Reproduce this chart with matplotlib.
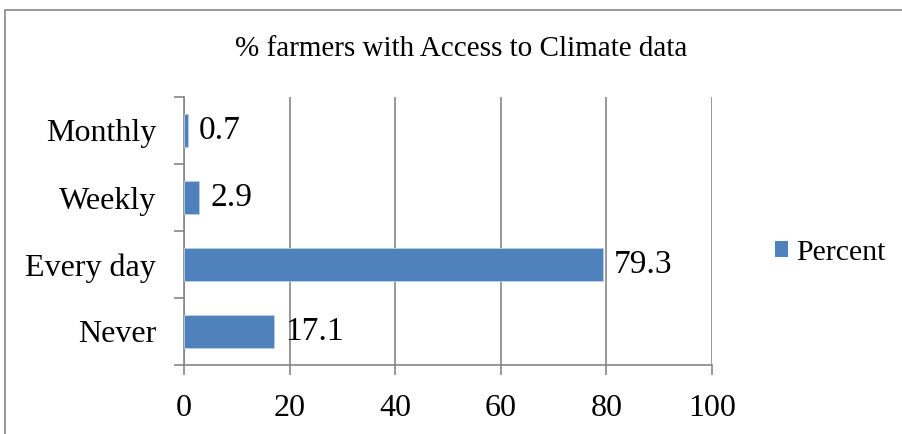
import matplotlib.pyplot as plt
from matplotlib.patches import Rectangle, Patch

categories = ['Never', 'Every day', 'Weekly', 'Monthly']
percent = [17.1, 79.3, 2.9, 0.7]
xticks = [0, 20, 40, 60, 80, 100]

plt.rcParams['font.family'] = ['Liberation Serif', 'DejaVu Serif']

fig = plt.figure(figsize=(9.03, 4.34), dpi=100)
ax = fig.add_axes([184/903, 1 - 365/434, (712 - 184)/903, (365 - 97)/434])

blue = '#4f81bd'
grey = '#868686'

ypos = list(range(len(categories)))
bars = ax.barh(ypos, percent, height=0.5, color=blue, edgecolor='#b9cde5',
               linewidth=0.6, zorder=3, label='Percent')
for y, v in zip(ypos, percent):
    ax.annotate('%g' % v, (v, y), xytext=(8, 0), textcoords='offset points',
                va='center', ha='left', fontsize=24, zorder=4)

ax.set_xlim(0, 100)
ax.set_ylim(-0.5, len(categories) - 0.5)
ax.set_xticks(xticks)
ax.set_xticklabels([str(t) for t in xticks], fontsize=23)
ax.set_yticks(ypos)
ax.set_yticklabels(categories, fontsize=23)
ax.set_yticks([y - 0.5 for y in range(len(categories) + 1)], minor=True)

ax.grid(axis='x', color=grey, linewidth=1.2, zorder=0)
for s in ['top', 'right']:
    ax.spines[s].set_visible(False)
for s in ['left', 'bottom']:
    ax.spines[s].set_color(grey)
    ax.spines[s].set_linewidth(1.2)
ax.tick_params(axis='y', which='major', length=0, pad=20)
ax.tick_params(axis='y', which='minor', length=7, color=grey, width=1.2)
ax.tick_params(axis='x', which='major', length=7, color=grey, width=1.2, pad=14)

fig.text((232 + 690) / 2 / 903, 1 - 49/434, '% farmers with Access to Climate data',
         ha='center', va='center', fontsize=21)

proxy = Patch(facecolor=blue, edgecolor=blue, linewidth=0)
leg = fig.legend(handles=[proxy], labels=['Percent'], loc='center left',
                 bbox_to_anchor=(775/903, 1 - 253/434), frameon=False,
                 fontsize=21.5, handlelength=0.45, handleheight=0.45,
                 handletextpad=0.25, borderaxespad=0, borderpad=0)

fig.patches.append(Rectangle((5/903, -0.1), 1.2, 1 - 10/434 + 0.1,
                             transform=fig.transFigure, fill=False,
                             edgecolor=grey, linewidth=1.2))

fig.savefig('out.png', dpi=100)
